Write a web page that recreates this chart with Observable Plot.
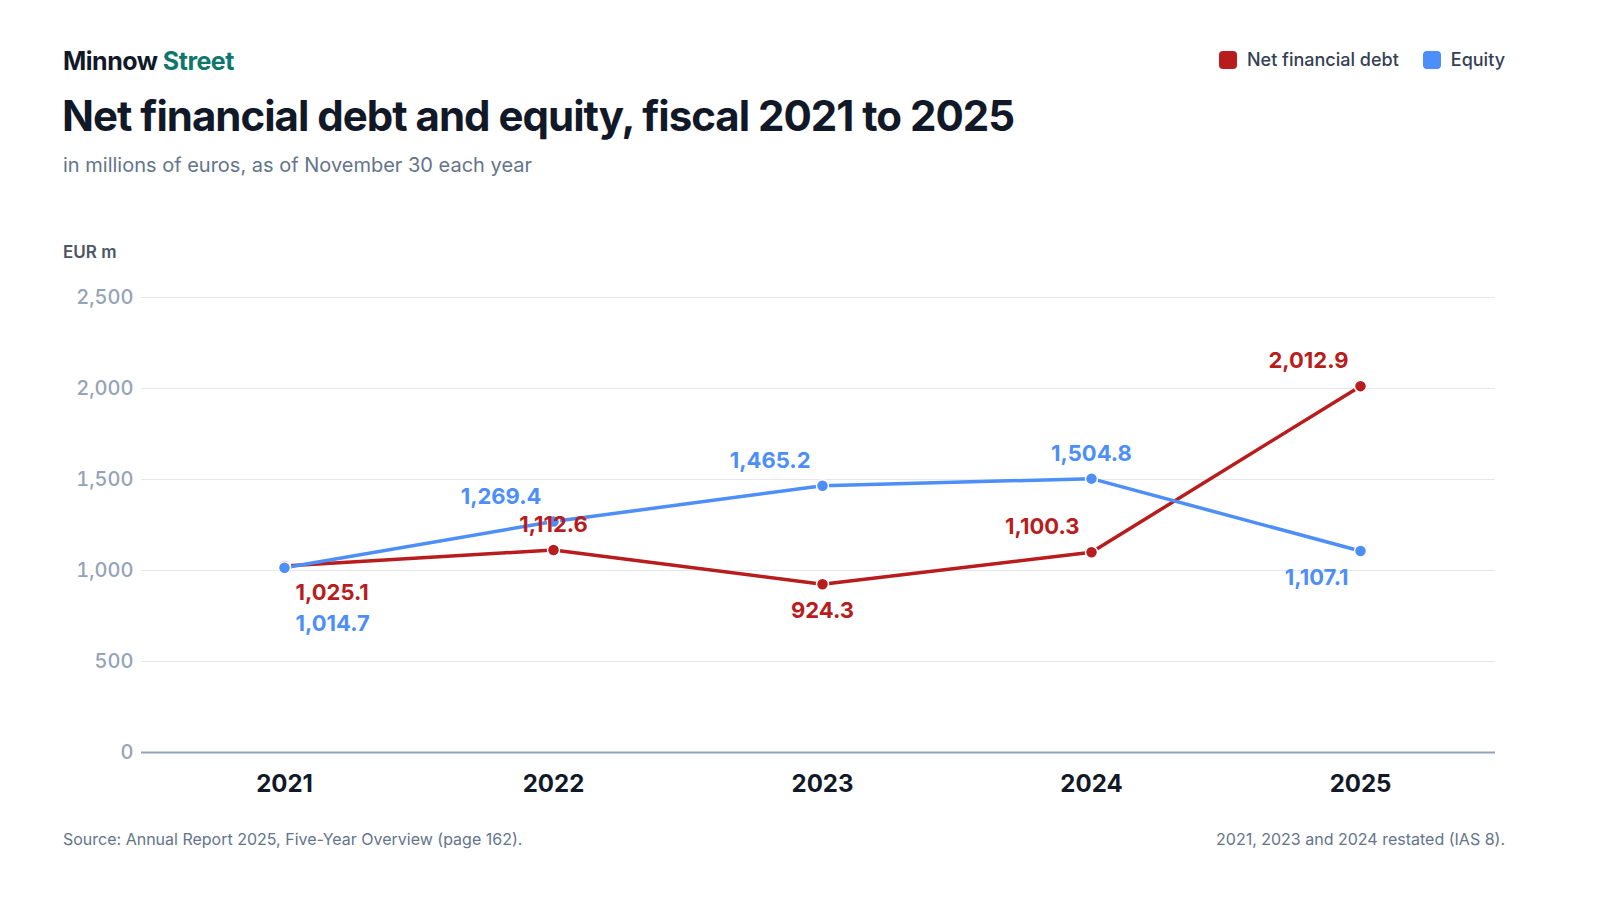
<!DOCTYPE html>
<html>
<head>
<meta charset="utf-8">
<script src="https://cdn.jsdelivr.net/npm/d3@7"></script>
<script src="https://cdn.jsdelivr.net/npm/@observablehq/plot@0.6"></script>
<style>
  html, body { margin: 0; padding: 0; background: #fff; }
  body { width: 1600px; height: 900px; position: relative; font-family: Inter, "Noto Sans", sans-serif; overflow: hidden; }
  .abs { position: absolute; line-height: 1; white-space: nowrap; }
  #brand { left: 63px; top: 49px; font-size: 25px; font-weight: 700; color: #111827; letter-spacing: -0.5px; }
  #brand span { color: #0f766e; }
  #title { left: 62px; top: 95px; font-size: 42px; font-weight: 700; color: #111827; letter-spacing: -1px; }
  #subtitle { left: 63px; top: 155px; font-size: 20px; color: #64748b; }
  #legend { right: 95px; top: 51px; display: flex; gap: 24px; font-size: 18px; color: #334155; font-weight: 500; }
  #legend .item { display: flex; align-items: center; gap: 10px; }
  #legend .sw { width: 18px; height: 18px; border-radius: 4px; display: inline-block; }
  #unit { left: 63px; top: 244px; font-size: 17px; font-weight: 600; color: #4b5563; }
  #chart { position: absolute; left: 0; top: 240px; }
  #source { left: 63px; top: 831px; font-size: 16px; color: #64748b; }
  #note { right: 95px; top: 831px; font-size: 16px; color: #64748b; }
</style>
</head>
<body>
<div id="brand" class="abs">Minnow <span>Street</span></div>
<div id="title" class="abs">Net financial debt and equity, fiscal 2021 to 2025</div>
<div id="subtitle" class="abs">in millions of euros, as of November 30 each year</div>
<div id="legend" class="abs"></div>
<div id="unit" class="abs">EUR m</div>
<div id="chart"></div>
<div id="source" class="abs">Source: Annual Report 2025, Five-Year Overview (page 162).</div>
<div id="note" class="abs">2021, 2023 and 2024 restated (IAS 8).</div>
<script>
const years = ["2021", "2022", "2023", "2024", "2025"];
const netFinancialDebt = [1025.1, 1112.6, 924.3, 1100.3, 2012.9];
const equity = [1014.7, 1269.4, 1465.2, 1504.8, 1107.1];
const seriesNames = ["Net financial debt", "Equity"];
const seriesColors = ["#b91c1c", "#4d8ef8"];
const yTicks = [0, 500, 1000, 1500, 2000, 2500];
// label placement per point: vertical (above/below) and horizontal anchor
const debtLabelPlace = ["below-start", "above-middle", "below-middle", "above-end", "above-end"];
const equityLabelPlace = ["below2-start", "above-end", "above-end", "above-middle", "below-end"];

const legend = document.getElementById("legend");
seriesNames.forEach((n, i) => {
  const it = document.createElement("div");
  it.className = "item";
  it.innerHTML = `<span class="sw" style="background:${seriesColors[i]}"></span><span>${n}</span>`;
  legend.appendChild(it);
});

const rows = [];
years.forEach((y, i) => {
  rows.push({year: y, value: netFinancialDebt[i], series: seriesNames[0], place: debtLabelPlace[i]});
});
years.forEach((y, i) => {
  rows.push({year: y, value: equity[i], series: seriesNames[1], place: equityLabelPlace[i]});
});

const fmtVal = d3.format(",.1f");
const fmtTick = d3.format(",");

const offsets = {
  "above": -25, "below": 27, "below2": 56
};
const dxs = {"start": 11, "middle": 0, "end": -12};

const labelMarks = [];
for (const v of Object.keys(offsets)) {
  for (const h of Object.keys(dxs)) {
    const subset = rows.filter(r => r.place === `${v}-${h}`);
    if (!subset.length) continue;
    labelMarks.push(Plot.text(subset, {
      x: "year", y: "value", text: d => fmtVal(d.value),
      fill: "series", dy: offsets[v], dx: dxs[h], textAnchor: h,
      fontSize: 22, fontWeight: 700
    }));
  }
}

const chart = Plot.plot({
  width: 1600,
  height: 580,
  marginLeft: 141,
  marginRight: 105,
  marginTop: 57,
  marginBottom: 68,
  style: {fontFamily: "Inter, 'Noto Sans', sans-serif", background: "transparent", overflow: "visible"},
  x: {type: "point", domain: years, padding: 0.5, insetLeft: 8, label: null},
  y: {domain: [0, 2500], label: null},
  color: {domain: seriesNames, range: seriesColors},
  marks: [
    Plot.ruleY(yTicks.filter(t => t > 0), {stroke: "#e5e7eb", strokeWidth: 1}),
    Plot.axisY(yTicks, {tickSize: 0, tickPadding: 8, tickFormat: fmtTick, fontSize: 20, fontWeight: 500, fill: "#94a3b8", label: null}),
    Plot.axisX({tickSize: 0, tickPadding: 22, fontSize: 24, fontWeight: 700, fill: "#111827", label: null}),
    Plot.ruleY([0], {stroke: "#94a3b8", strokeWidth: 2}),
    Plot.line(rows.filter(r => r.series === seriesNames[0]), {x: "year", y: "value", stroke: "series", strokeWidth: 3.5}),
    Plot.line(rows.filter(r => r.series === seriesNames[1]), {x: "year", y: "value", stroke: "series", strokeWidth: 3.5}),
    Plot.dot(rows, {x: "year", y: "value", fill: "series", r: 6, stroke: "#fff", strokeWidth: 1.5}),
    ...labelMarks
  ]
});
document.getElementById("chart").appendChild(chart);
</script>
</body>
</html>
